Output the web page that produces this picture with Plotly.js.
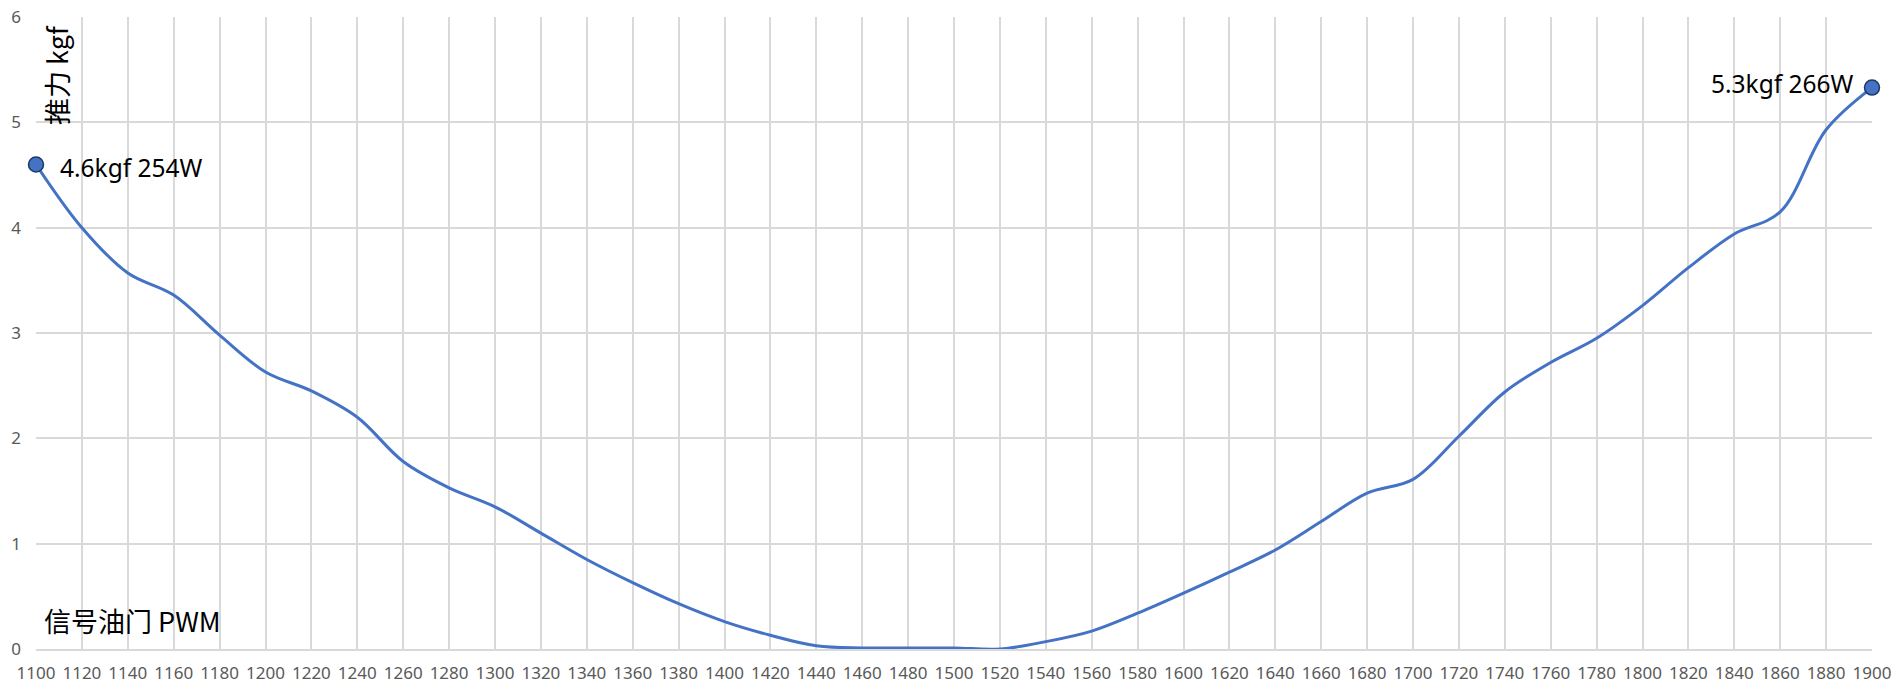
<!DOCTYPE html>
<html>
<head>
<meta charset="utf-8">
<script src="https://cdn.plot.ly/plotly-3.0.1.min.js"></script>
<style>
html,body{margin:0;padding:0;background:#fff;}
#chart{width:1904px;height:689px;}
</style>
</head>
<body>
<div id="chart"></div>
<script>
const pwm = [1100,1120,1140,1160,1180,1200,1220,1240,1260,1280,1300,1320,1340,1360,1380,1400,1420,1440,1460,1480,1500,1520,1540,1560,1580,1600,1620,1640,1660,1680,1700,1720,1740,1760,1780,1800,1820,1840,1860,1880,1900];
const thrust = [4.6,4.0,3.57,3.36,2.98,2.63,2.45,2.2,1.78,1.53,1.35,1.1,0.85,0.63,0.43,0.26,0.13,0.03,0.01,0.01,0.01,0.0,0.07,0.17,0.34,0.53,0.73,0.94,1.21,1.48,1.61,2.02,2.44,2.72,2.95,3.26,3.62,3.94,4.15,4.93,5.33];
const endLabels = ["4.6kgf 254W","5.3kgf 266W"];
const yTitle = "推力 kgf";
const xTitle = "信号油门 PWM";

const endX = [pwm[0], pwm[pwm.length-1]];
const endY = [thrust[0], thrust[thrust.length-1]];

const traces = [
  {
    x: pwm, y: thrust, type: 'scatter', mode: 'lines',
    line: {color: '#4472C4', width: 3, shape: 'spline', smoothing: 1},
    cliponaxis: false, hoverinfo: 'x+y'
  },
  {
    x: endX, y: endY, type: 'scatter', mode: 'markers',
    marker: {color: '#4472C4', size: 15, line: {color: '#1F3864', width: 1.5}},
    cliponaxis: false, hoverinfo: 'x+y'
  }
];

const textFont = {family: '"Noto Sans", "Noto Sans CJK SC", sans-serif', size: 24.5, color: '#000'};

const layout = {
  width: 1904, height: 689,
  margin: {l: 36, r: 32, t: 17, b: 40, pad: 0},
  paper_bgcolor: '#fff', plot_bgcolor: '#fff',
  showlegend: false,
  font: {family: '"Noto Sans", sans-serif', color: '#595959', size: 17},
  xaxis: {
    range: [1100, 1900], tick0: 1100, dtick: 20, tickmode: 'linear',
    showgrid: true, gridcolor: '#D9D9D9', gridwidth: 2,
    showline: true, linecolor: '#D9D9D9', linewidth: 2,
    zeroline: false, ticks: '', ticklabelstandoff: 8,
    tickfont: {size: 17, color: '#595959'}
  },
  yaxis: {
    range: [0, 6], dtick: 1, tick0: 0,
    showgrid: true, gridcolor: '#D9D9D9', gridwidth: 2,
    showline: false, zeroline: false, ticks: '', ticklabelstandoff: 14,
    tickfont: {size: 17, color: '#595959'}
  },
  annotations: [
    {x: endX[0], y: endY[0], xref: 'x', yref: 'y', text: endLabels[0], showarrow: false,
     xanchor: 'left', yanchor: 'middle', xshift: 22, yshift: -3, font: textFont},
    {x: endX[1], y: endY[1], xref: 'x', yref: 'y', text: endLabels[1], showarrow: false,
     xanchor: 'right', yanchor: 'middle', xshift: -16, yshift: 4, font: textFont},
    {x: 20/1836, y: (649-75)/632, xref: 'paper', yref: 'paper', text: yTitle, showarrow: false,
     textangle: -90, xanchor: 'center', yanchor: 'middle',
     font: {family: '"Noto Sans CJK SC", "Noto Sans", sans-serif', size: 27, color: '#000'}},
    {x: 6/1836, y: (649-620)/632, xref: 'paper', yref: 'paper', text: xTitle, showarrow: false,
     xanchor: 'left', yanchor: 'middle',
     font: {family: '"Noto Sans CJK SC", "Noto Sans", sans-serif', size: 27, color: '#000'}}
  ]
};

Plotly.newPlot('chart', traces, layout, {displayModeBar: false, responsive: false});
</script>
</body>
</html>
